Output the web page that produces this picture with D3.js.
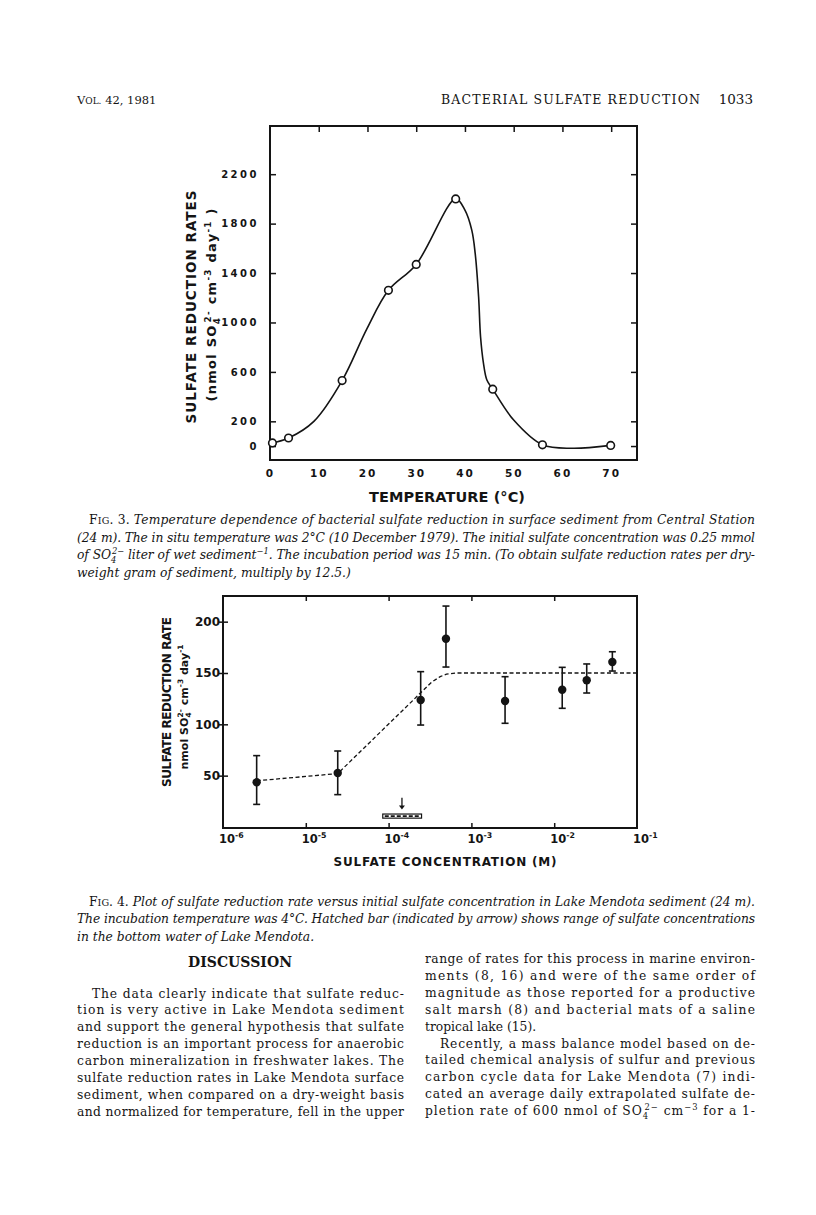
<!DOCTYPE html>
<html>
<head>
<meta charset="utf-8">
<script src="https://cdn.jsdelivr.net/npm/d3@7"></script>
<style>
  body { margin: 0; background: #fff; }
  svg { display: block; }
</style>
</head>
<body>
<div id="page"></div>
<script>
// ---- Fig. 3 : rate vs temperature ----
var tempC  = [0.5, 3.8, 14.8, 24.3, 30, 38.1, 45.7, 55.9, 69.9];
var rate3  = [25, 65, 530, 1260, 1470, 2000, 460, 10, 5];
// hand drawn curve
var fitTemp = [0, 3.8, 9, 14.8, 19.9, 24.3, 30, 38.1, 40, 41.4, 42.1, 42.8, 43.2, 43.8, 44.5, 45.7, 50, 55.9, 62, 69.9];
var fitRate = [20, 65, 200, 530, 950, 1260, 1470, 2000, 1909, 1747, 1559, 1208, 884, 669, 534, 460, 210, 10, -18, 5];
var xTicks3 = [0, 10, 20, 30, 40, 50, 60, 70];
var yTicks3 = [0, 200, 600, 1000, 1400, 1800, 2200];

// ---- Fig. 4 : rate vs sulfate concentration ----
var conc   = [2.55e-6, 2.43e-5, 2.44e-4, 4.93e-4, 2.55e-3, 1.25e-2, 2.47e-2, 5.04e-2];
var rate4  = [43.5, 52.6, 123.7, 183.4, 122.7, 133.7, 142.9, 160.7];
var errHi  = [69.5, 74, 151.3, 215.2, 146.4, 155.5, 158.8, 170.7];
var errLo  = [22, 31.5, 99.3, 155.8, 101, 115.6, 130.5, 151.9];
var fitConc  = [2.55e-6, 2.43e-5, 3.3e-4, 4.2e-4, 5e-4, 6.5e-4, 1e-1];
var fitRate4 = [45, 52, 141, 146.5, 148.8, 150, 150];
var hatchRange = [8.5e-5, 2.5e-4];
var arrowConc = 1.45e-4;
var xTicks4 = [1e-6, 1e-5, 1e-4, 1e-3, 1e-2, 1e-1];
var xExp4 = ["-6", "-5", "-4", "-3", "-2", "-1"];
var yTicks4 = [50, 100, 150, 200];

var ink = "#141414";
var sans = "'DejaVu Sans', sans-serif";
var serif = "'DejaVu Serif', serif";

var svg = d3.select("#page").append("svg")
    .attr("width", 816).attr("height", 1215)
    .style("font-family", serif).attr("fill", ink);
svg.append("rect").attr("width", 816).attr("height", 1215).attr("fill", "#fff");

// one line of text, parts can be sub / sup / small caps
function addLine(parent, x, y, parts, o) {
  var fs = o.size;
  var t = parent.append("text").attr("x", x).attr("y", y).style("font-size", fs + "px");
  if (o.italic) t.style("font-style", "italic");
  if (o.bold) t.style("font-weight", "bold");
  if (o.anchor) t.attr("text-anchor", o.anchor);
  if (o.width) t.attr("textLength", o.width).attr("lengthAdjust", "spacing");
  if (o.ls) t.style("letter-spacing", o.ls + "px");
  if (typeof parts === "string") parts = [{t: parts}];
  var cur = 0;
  parts.forEach(function (p) {
    var target = p.s === "sub" ? 0.3 * fs : (p.s === "sup" ? -0.42 * fs : 0);
    var ts = t.append("tspan").text(p.t);
    if (target !== cur) ts.attr("dy", target - cur);
    cur = target;
    if (p.s === "sub" || p.s === "sup") ts.style("font-size", (fs * 0.68) + "px");
    if (p.s === "sc") ts.style("font-size", (fs * 0.78) + "px");
    if (p.r || p.s === "sc") ts.style("font-style", "normal");
    if (p.dx) ts.attr("dx", p.dx);
  });
  return t;
}

function styleAxis(g, fs) {
  g.attr("font-family", sans);
  g.select(".domain").remove();
  g.selectAll(".tick line").attr("stroke", ink).attr("stroke-width", 1.5);
  g.selectAll(".tick text").attr("fill", ink)
    .style("font-size", fs + "px").style("font-weight", "bold");
}

// ---- running head ----
var head = svg.append("g");
addLine(head, 77, 104, [{t: "V"}, {t: "OL.", s: "sc"}, {t: " 42, 1981"}], {size: 11.5});
addLine(head, 441, 104, "BACTERIAL SULFATE REDUCTION", {size: 12.5, width: 259});
addLine(head, 753, 104, "1033", {size: 13.5, anchor: "end"});

// ---- Fig. 3 ----
var x3 = d3.scaleLinear().domain([0, 75.3]).range([270, 637]);
var y3 = d3.scaleLinear().domain([-113, 2590]).range([460, 126]);
var g3 = svg.append("g").style("font-family", sans);

g3.append("g").attr("transform", "translate(0," + y3(-113) + ")")
  .call(d3.axisBottom(x3).tickValues(xTicks3).tickSize(0).tickPadding(10))
  .call(styleAxis, 10.5)
  .selectAll(".tick text").style("letter-spacing", "2px");
g3.append("g").attr("transform", "translate(0," + y3(2590) + ")")
  .call(d3.axisTop(x3).tickValues(xTicks3.slice(1)).tickSize(-6).tickFormat(""))
  .call(styleAxis, 10);
g3.append("g").attr("transform", "translate(" + x3(0) + ",0)")
  .call(d3.axisLeft(y3).tickValues(yTicks3).tickSize(-6).tickPadding(11).tickFormat(d3.format("d")))
  .call(styleAxis, 10)
  .selectAll(".tick text").style("letter-spacing", "2.5px");
g3.append("g").attr("transform", "translate(" + x3(75.3) + ",0)")
  .call(d3.axisRight(y3).tickValues(yTicks3).tickSize(-6).tickFormat(""))
  .call(styleAxis, 10);

g3.append("rect")
  .attr("x", x3(0)).attr("y", y3(2590))
  .attr("width", x3(75.3) - x3(0)).attr("height", y3(-113) - y3(2590))
  .attr("fill", "none").attr("stroke", ink).attr("stroke-width", 2);

var line3 = d3.line()
  .x(function (d) { return x3(d[0]); })
  .y(function (d) { return y3(d[1]); })
  .curve(d3.curveCatmullRom.alpha(0.5));
g3.append("path").datum(d3.zip(fitTemp, fitRate))
  .attr("d", line3).attr("fill", "none").attr("stroke", ink).attr("stroke-width", 1.6);

g3.selectAll("circle").data(d3.zip(tempC, rate3)).join("circle")
  .attr("cx", function (d) { return x3(d[0]); })
  .attr("cy", function (d) { return y3(d[1]); })
  .attr("r", 3.8).attr("fill", "#fff").attr("stroke", ink).attr("stroke-width", 1.6);

addLine(g3, 0, 0, "SULFATE REDUCTION RATES", {size: 13.5, bold: true, anchor: "middle", width: 233})
  .attr("transform", "translate(196,307) rotate(-90)");
addLine(g3, 0, 0, [{t: "(nmol SO"}, {t: "4", s: "sub"}, {t: "2-", s: "sup", dx: -5.5},
    {t: " cm"}, {t: "-3", s: "sup"}, {t: " day"}, {t: "-1", s: "sup"}, {t: " )"}],
    {size: 13, bold: true, anchor: "middle", width: 193})
  .attr("transform", "translate(216,305) rotate(-90)");
addLine(g3, 447, 502, "TEMPERATURE (°C)", {size: 14.5, bold: true, anchor: "middle", width: 156});

// ---- Fig. 3 caption ----
var cap3 = svg.append("g");
var cap3Lines = [
  [{t: "F", r: true}, {t: "IG", s: "sc"}, {t: ". 3. ", r: true},
   {t: "Temperature dependence of bacterial sulfate reduction in surface sediment from Central Station"}],
  [{t: "(24 m). The in situ temperature was 2°C (10 December 1979). The initial sulfate concentration was 0.25 mmol"}],
  [{t: "of SO"}, {t: "4", s: "sub"}, {t: "2−", s: "sup", dx: -4.5}, {t: " liter of wet sediment"}, {t: "−1", s: "sup"},
   {t: ". The incubation period was 15 min. (To obtain sulfate reduction rates per dry-"}],
  [{t: "weight gram of sediment, multiply by 12.5.)"}]
];
cap3Lines.forEach(function (p, i) {
  var x = i === 0 ? 89 : 77;
  addLine(cap3, x, 524 + i * 17.7, p, {size: 12.3, italic: true, width: i < 3 ? 755 - x : null});
});

// ---- Fig. 4 ----
var x4 = d3.scaleLog().domain([1e-6, 1e-1]).range([223, 637]);
var y4 = d3.scaleLinear().domain([-1, 225]).range([828, 596]);
var g4 = svg.append("g").style("font-family", sans);

var yAx4 = g4.append("g").attr("transform", "translate(" + x4(1e-6) + ",0)")
  .call(d3.axisLeft(y4).tickValues(yTicks4).tickSize(-5).tickPadding(3))
  .call(styleAxis, 12);
yAx4.selectAll(".tick line").attr("x1", -4);
g4.append("g").attr("transform", "translate(0," + y4(-1) + ")")
  .call(d3.axisBottom(x4).tickValues(xTicks4.slice(1, -1)).tickSize(-5).tickFormat(""))
  .call(styleAxis, 12);
g4.append("g").attr("transform", "translate(0," + y4(225) + ")")
  .call(d3.axisTop(x4).tickValues(xTicks4.slice(1, -1)).tickSize(-5).tickFormat(""))
  .call(styleAxis, 12);

g4.append("rect")
  .attr("x", x4(1e-6)).attr("y", y4(225))
  .attr("width", x4(1e-1) - x4(1e-6)).attr("height", y4(-1) - y4(225))
  .attr("fill", "none").attr("stroke", ink).attr("stroke-width", 2);

// decade labels 10^n
xTicks4.forEach(function (v, i) {
  addLine(g4, x4(v) - 4, 843, [{t: "10"}, {t: xExp4[i], s: "sup"}], {size: 11.5, bold: true});
});

var line4 = d3.line()
  .x(function (d) { return x4(d[0]); })
  .y(function (d) { return y4(d[1]); });
g4.append("path").datum(d3.zip(fitConc, fitRate4))
  .attr("d", line4).attr("fill", "none").attr("stroke", ink)
  .attr("stroke-width", 1.3).attr("stroke-dasharray", "4,2.5");

var pts4 = conc.map(function (c, i) { return {c: c, v: rate4[i], hi: errHi[i], lo: errLo[i]}; });
var eb = g4.append("g").attr("stroke", ink).attr("stroke-width", 1.6);
pts4.forEach(function (d) {
  var cx = x4(d.c);
  eb.append("line").attr("x1", cx).attr("x2", cx).attr("y1", y4(d.lo)).attr("y2", y4(d.hi));
  eb.append("line").attr("x1", cx - 3.5).attr("x2", cx + 3.5).attr("y1", y4(d.lo)).attr("y2", y4(d.lo));
  eb.append("line").attr("x1", cx - 3.5).attr("x2", cx + 3.5).attr("y1", y4(d.hi)).attr("y2", y4(d.hi));
});
g4.selectAll("circle").data(pts4).join("circle")
  .attr("cx", function (d) { return x4(d.c); })
  .attr("cy", function (d) { return y4(d.v); })
  .attr("r", 4.2).attr("fill", ink);

// hatched bar + arrow
var hb = g4.append("g");
hb.append("rect")
  .attr("x", x4(hatchRange[0])).attr("y", y4(12.6))
  .attr("width", x4(hatchRange[1]) - x4(hatchRange[0])).attr("height", y4(8.6) - y4(12.6))
  .attr("fill", "#fff").attr("stroke", ink).attr("stroke-width", 1.2);
hb.append("line")
  .attr("x1", x4(hatchRange[0]) + 2).attr("x2", x4(hatchRange[1]) - 2)
  .attr("y1", y4(10.6)).attr("y2", y4(10.6))
  .attr("stroke", ink).attr("stroke-width", 1.6).attr("stroke-dasharray", "4,2");
var ax = x4(arrowConc);
hb.append("line").attr("x1", ax).attr("x2", ax).attr("y1", y4(28.5)).attr("y2", y4(20))
  .attr("stroke", ink).attr("stroke-width", 1.3);
hb.append("path")
  .attr("d", "M" + (ax - 3) + "," + y4(21) + "L" + (ax + 3) + "," + y4(21) + "L" + ax + "," + y4(17) + "Z")
  .attr("fill", ink);

addLine(g4, 0, 0, "SULFATE REDUCTION RATE", {size: 12, bold: true, anchor: "middle", width: 170})
  .attr("transform", "translate(171,702) rotate(-90)");
addLine(g4, 0, 0, [{t: "nmol SO"}, {t: "4", s: "sub"}, {t: "2-", s: "sup", dx: -5},
    {t: "  cm"}, {t: "-3", s: "sup"}, {t: "  day"}, {t: "-1", s: "sup"}],
    {size: 11, bold: true, anchor: "middle", width: 125})
  .attr("transform", "translate(188,707) rotate(-90)");
addLine(g4, 445, 866, "SULFATE CONCENTRATION (M)", {size: 12, bold: true, anchor: "middle", width: 223});

// ---- Fig. 4 caption ----
var cap4 = svg.append("g");
var cap4Lines = [
  [{t: "F", r: true}, {t: "IG", s: "sc"}, {t: ". 4. ", r: true},
   {t: "Plot of sulfate reduction rate versus initial sulfate concentration in Lake Mendota sediment (24 m)."}],
  [{t: "The incubation temperature was 4°C. Hatched bar (indicated by arrow) shows range of sulfate concentrations"}],
  [{t: "in the bottom water of Lake Mendota."}]
];
cap4Lines.forEach(function (p, i) {
  var x = i === 0 ? 89 : 77;
  addLine(cap4, x, 905.5 + i * 17.7, p, {size: 12.3, italic: true, width: i < 2 ? 755 - x : null});
});

// ---- Discussion text ----
var body = svg.append("g");
addLine(body, 240, 967, "DISCUSSION", {size: 14, bold: true, anchor: "middle", width: 104});

var leftCol = [
  "The data clearly indicate that sulfate reduc-",
  "tion is very active in Lake Mendota sediment",
  "and support the general hypothesis that sulfate",
  "reduction is an important process for anaerobic",
  "carbon mineralization in freshwater lakes. The",
  "sulfate reduction rates in Lake Mendota surface",
  "sediment, when compared on a dry-weight basis",
  "and normalized for temperature, fell in the upper"
];
leftCol.forEach(function (s, i) {
  var x = i === 0 ? 92 : 77;
  addLine(body, x, 997.5 + i * 16.9, s, {size: 12.3, width: 404 - x});
});

var rightCol = [
  "range of rates for this process in marine environ-",
  "ments (8, 16) and were of the same order of",
  "magnitude as those reported for a productive",
  "salt marsh (8) and bacterial mats of a saline",
  "tropical lake (15).",
  "Recently, a mass balance model based on de-",
  "tailed chemical analysis of sulfur and previous",
  "carbon cycle data for Lake Mendota (7) indi-",
  "cated an average daily extrapolated sulfate de-",
  [{t: "pletion rate of 600 nmol of SO"}, {t: "4", s: "sub"}, {t: "2−", s: "sup", dx: -4.5},
   {t: " cm"}, {t: "−3", s: "sup"}, {t: " for a 1-"}]
];
rightCol.forEach(function (s, i) {
  var x = i === 5 ? 440 : 425;
  addLine(body, x, 963 + i * 16.9, s, {size: 12.3, width: i === 4 ? null : 755 - x});
});
</script>
</body>
</html>
